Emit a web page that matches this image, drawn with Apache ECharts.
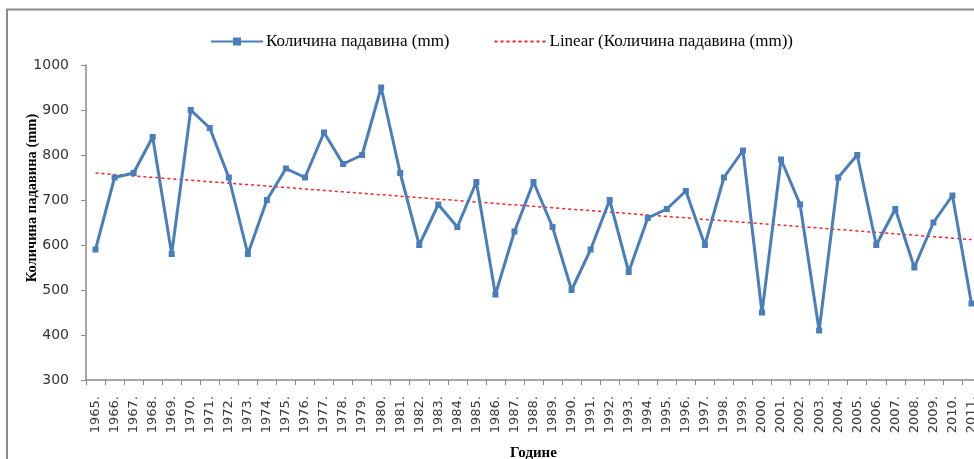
<!DOCTYPE html>
<html>
<head>
<meta charset="utf-8">
<script src="https://cdn.jsdelivr.net/npm/echarts@6/dist/echarts.min.js"></script>
<style>
html,body{margin:0;padding:0;background:#fff;}
#chart{width:974px;height:459px;}
</style>
</head>
<body>
<div id="chart"></div>
<script>
var years = ['1965','1966','1967','1968','1969','1970','1971','1972','1973','1974','1975','1976','1977','1978','1979','1980','1981','1982','1983','1984','1985','1986','1987','1988','1989','1990','1991','1992','1993','1994','1995','1996','1997','1998','1999','2000','2001','2002','2003','2004','2005','2006','2007','2008','2009','2010','2011'];
var rainfall = [590,750,760,840,580,900,860,750,580,700,770,750,850,780,800,950,760,600,690,640,740,490,630,740,640,500,590,700,540,660,680,720,600,750,810,450,790,690,410,750,800,600,680,550,650,710,470];
var seriesName = 'Количина падавина (mm)';
var trendName = 'Linear (Количина падавина (mm))';
var yAxisTitle = 'Количина падавина (mm)';
var xAxisTitle = 'Године';

// least-squares linear trend from the data
var n = rainfall.length, sx = 0, sy = 0, sxy = 0, sxx = 0;
for (var i = 0; i < n; i++) { sx += i; sy += rainfall[i]; sxy += i * rainfall[i]; sxx += i * i; }
var slope = (n * sxy - sx * sy) / (n * sxx - sx * sx);
var intercept = (sy - slope * sx) / n;
var trend = rainfall.map(function (v, i) { return +(intercept + slope * i).toFixed(2); });

var chart = echarts.init(document.getElementById('chart'));
chart.setOption({
  animation: false,
  backgroundColor: '#fff',
  graphic: [
    { type: 'rect', shape: { x: 7, y: 9.5, width: 1000, height: 500 }, style: { fill: 'none', stroke: '#8a8a8a', lineWidth: 2 }, z: 0 },
    { type: 'text', x: 32, y: 198, rotation: Math.PI / 2, style: { text: yAxisTitle, font: 'bold 14.5px "Liberation Serif", serif', fill: '#000', textAlign: 'center', textVerticalAlign: 'middle' } }
  ],
  legend: {
    left: 205, top: 28,
    itemWidth: 52, itemHeight: 10, itemGap: 44,
    textStyle: { fontFamily: '"Liberation Serif", serif', fontSize: 17, color: '#000', padding: [0, 0, 0, -2] },
    data: [
      { name: seriesName },
      { name: trendName, itemStyle: { opacity: 0 } }
    ]
  },
  grid: { left: 86, top: 65, bottom: 79, width: 895, containLabel: false, outerBoundsMode: 'none' },
  xAxis: {
    type: 'category',
    data: years,
    boundaryGap: true,
    name: xAxisTitle,
    nameLocation: 'middle',
    nameGap: 66,
    nameTextStyle: { fontFamily: '"Liberation Serif", serif', fontWeight: 'bold', fontSize: 15, color: '#000' },
    axisLine: { lineStyle: { color: '#8a8a8a', width: 1.5 } },
    axisTick: { show: true, length: 5, lineStyle: { color: '#8a8a8a' } },
    axisLabel: {
      interval: 0, rotate: 90, margin: 16,
      fontFamily: '"DejaVu Sans", sans-serif', fontSize: 13, color: '#3a3a3a',
      formatter: function (v) { return v + '.'; }
    },
    splitLine: { show: false }
  },
  yAxis: {
    type: 'value',
    min: 300, max: 1000, interval: 100,
    axisLine: { show: true, lineStyle: { color: '#8a8a8a', width: 1.5 } },
    axisTick: { show: true, length: 5, lineStyle: { color: '#8a8a8a' } },
    axisLabel: { fontFamily: '"DejaVu Sans", sans-serif', fontSize: 14, color: '#333', margin: 17,
      formatter: function (v) { return String(v); } },
    splitLine: { show: false }
  },
  series: [
    {
      name: seriesName,
      type: 'line',
      data: rainfall,
      symbol: 'rect',
      symbolSize: 6,
      itemStyle: { color: '#4a7ebb' },
      lineStyle: { color: '#4a7ebb', width: 3 },
      z: 3
    },
    {
      name: trendName,
      type: 'line',
      data: trend,
      symbol: 'none',
      symbolSize: 0,
      itemStyle: { color: '#ff0000' },
      lineStyle: { color: '#ff2020', width: 1.5, type: [3, 3] },
      z: 2
    }
  ]
});
</script>
</body>
</html>
